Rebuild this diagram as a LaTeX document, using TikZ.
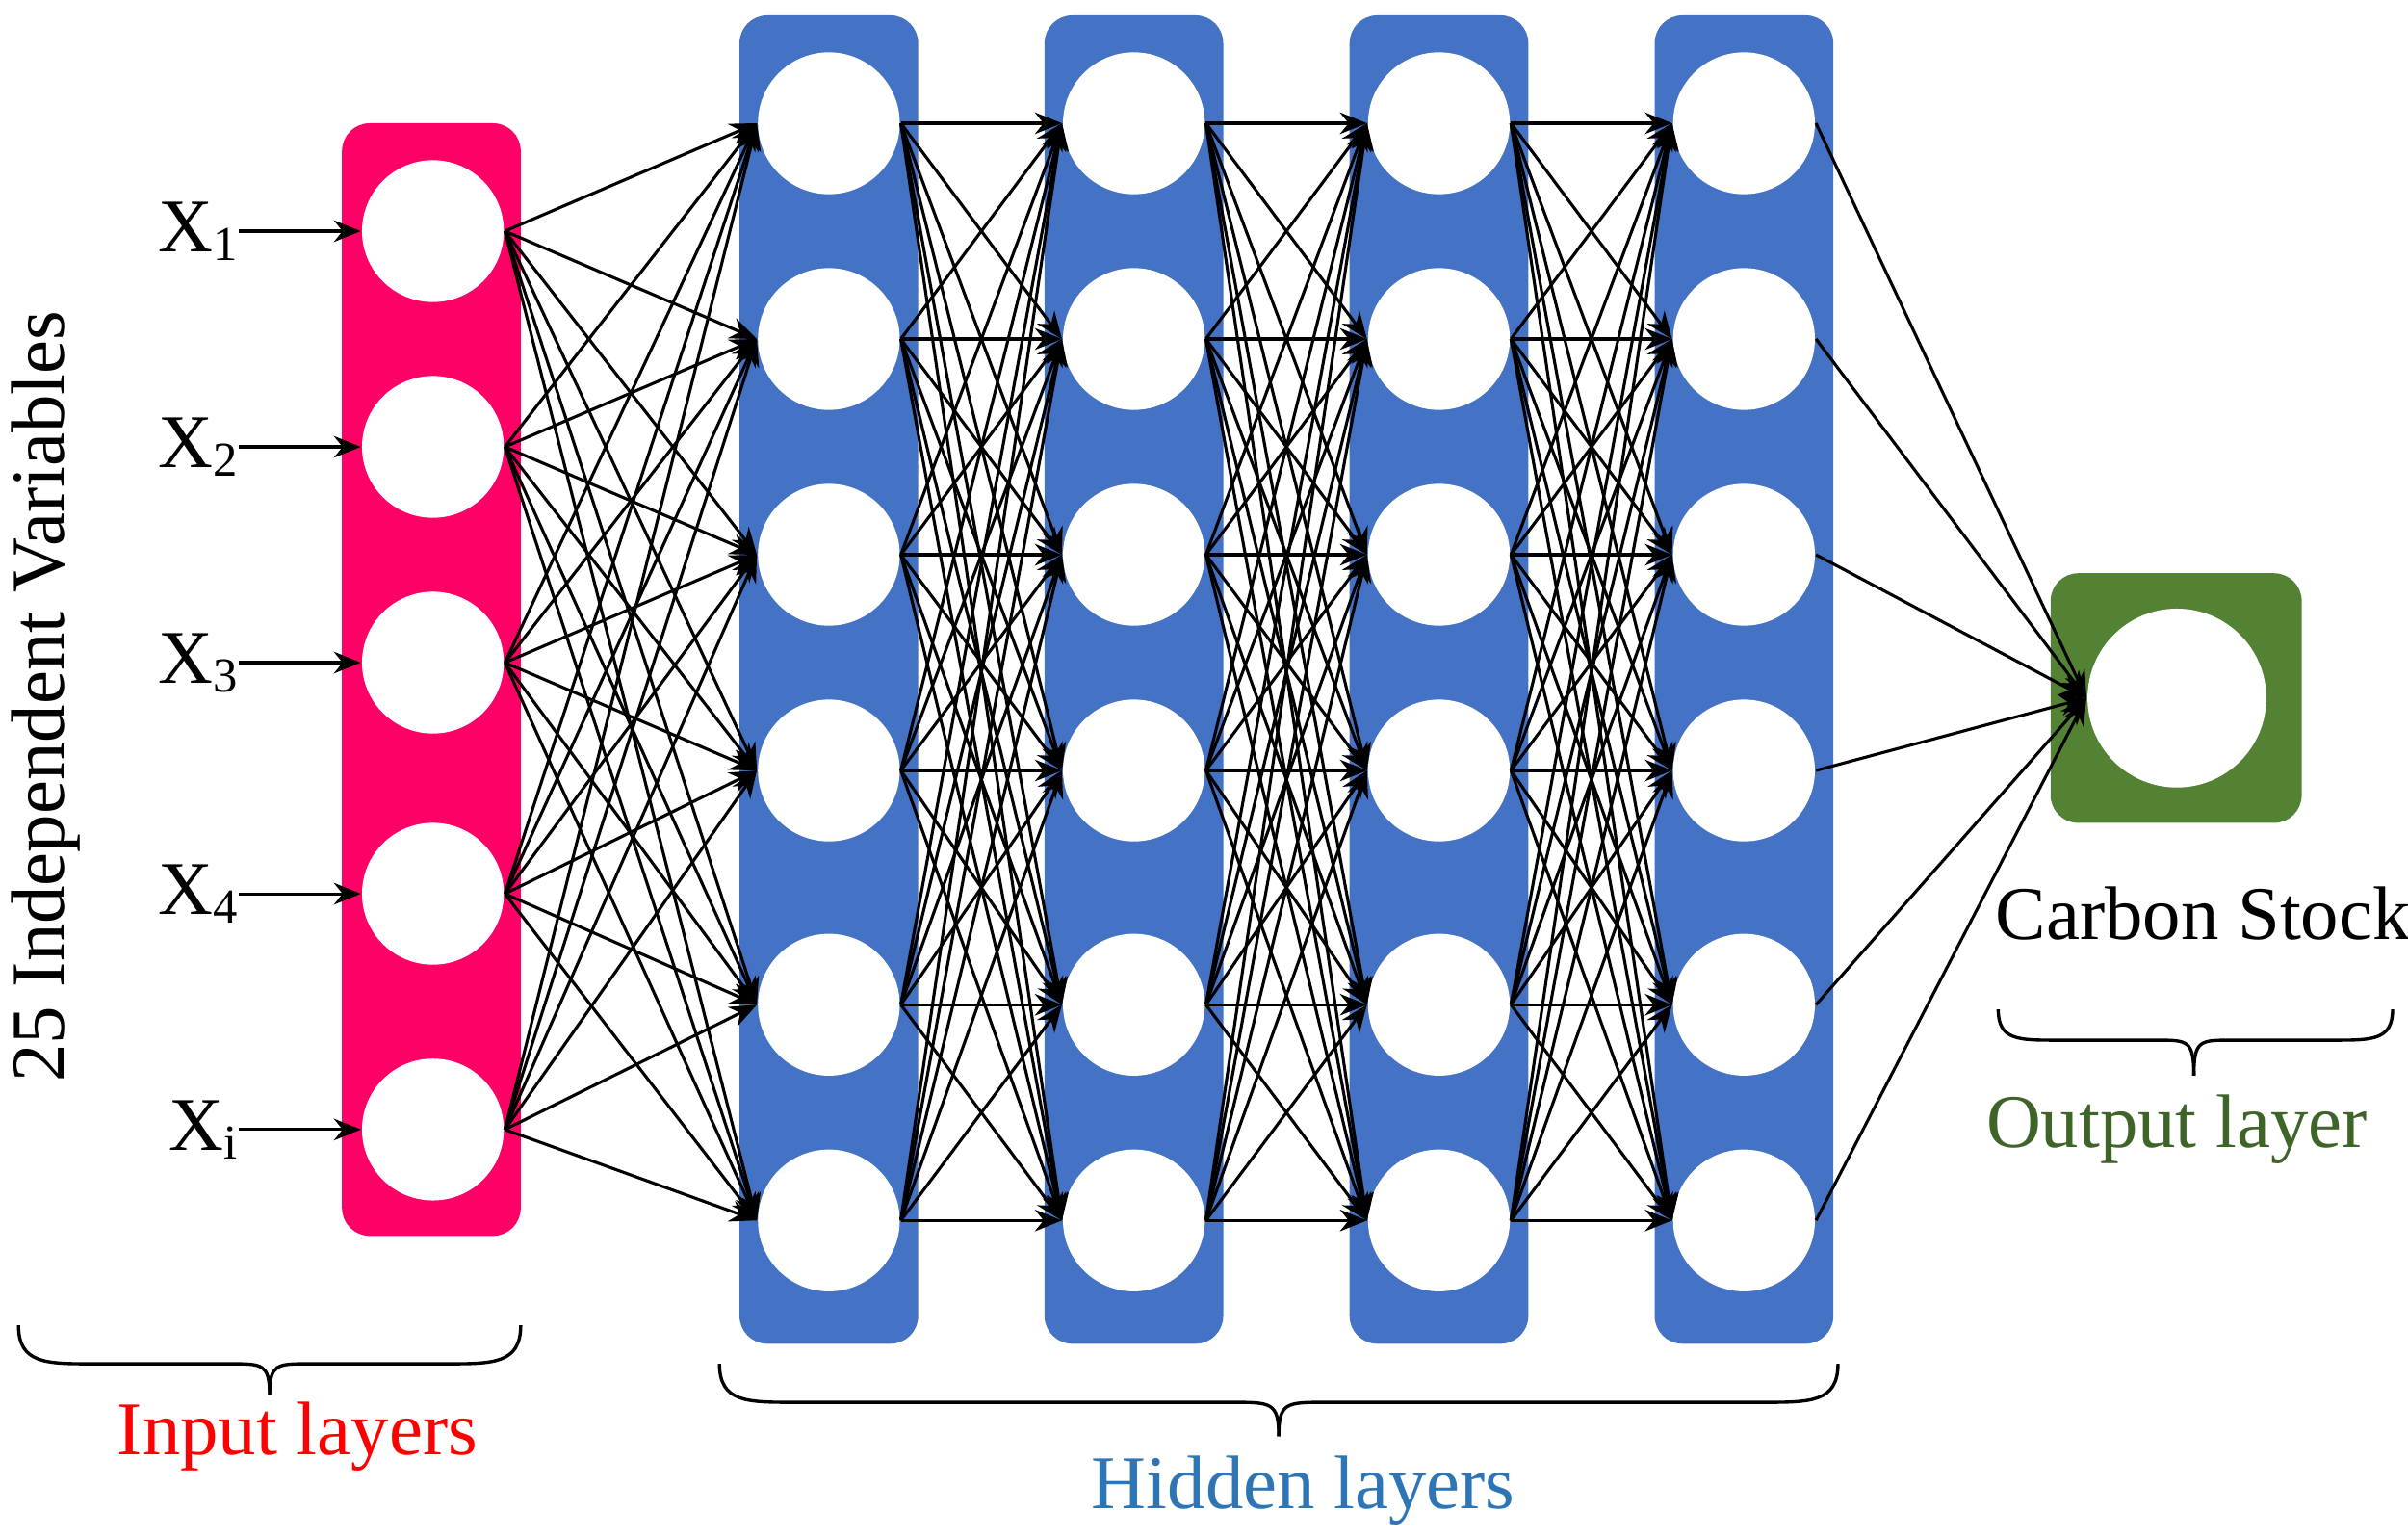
\documentclass[tikz,border=0pt]{standalone}
\usepackage{fontspec}
\setmainfont{Liberation Serif}
\usetikzlibrary{arrows.meta}
\definecolor{pinkc}{HTML}{FF0066}
\definecolor{bluec}{HTML}{4472C4}
\definecolor{greenc}{HTML}{548235}
\definecolor{dgreen}{HTML}{3F6428}
\definecolor{redt}{HTML}{FF0000}
\definecolor{bluet}{HTML}{2E75B6}
\begin{document}
\begin{tikzpicture}[x=0.01cm,y=-0.01cm,
  neuron/.style={circle,fill=white,draw=none,minimum size=0.92cm,inner sep=0pt},
  conn/.style={-{Stealth[length=5pt,width=4pt]},line width=0.55pt},
  lay/.style={rounded corners=0.18cm,draw=none},
  lbl/.style={font=\fontsize{14}{17}\selectfont},
  brace/.style={line width=0.6pt}]
\useasboundingbox (0,0) rectangle (1563,998);
% layers
\fill[lay,pinkc] (222,80) rectangle (338,802);
\foreach \x [count=\k] in {480,678,876,1074}
  \fill[lay,bluec] (\x,10) rectangle (\x+116,872);
\fill[lay,greenc] (1331,372) rectangle (1494,534);
% input nodes
\foreach \y [count=\i] in {150,290,430,580,733}
  \node[neuron] (i\i) at (281,\y) {};
\foreach \x [count=\k] in {538,736,934,1132}
  \foreach \y [count=\j] in {80,220,360,500,652,792}
    \node[neuron] (h\k-\j) at (\x,\y) {};
\node[neuron,minimum size=1.16cm] (o) at (1413,453) {};
% input labels
\foreach \t [count=\i] in {1,2,3,4,i}{
  \pgfmathsetmacro{\yy}{{150,290,430,580,733}[\i-1]}
  \node[lbl,anchor=east,inner sep=0pt] (x\i) at (155,\yy) {X\raisebox{-0.25ex}{\fontsize{9}{11}\selectfont \t}};
  \draw[conn] (x\i.east) -- (i\i.west);
}
% connections
\foreach \i in {1,...,5}
  \foreach \j in {1,...,6}
    \draw[conn] (i\i.east) -- (h1-\j.west);
\foreach \k/\n in {1/2,2/3,3/4}
  \foreach \i in {1,...,6}
    \foreach \j in {1,...,6}
      \draw[conn] (h\k-\i.east) -- (h\n-\j.west);
\foreach \i in {1,...,6}
  \draw[conn] (h4-\i.east) -- (o.west);
% texts
\node[lbl,rotate=90] (vt) at (30,452) {25 Independent Variables};
\node[lbl] (cs) at (1430,593) {Carbon Stock};
\node[lbl,text=dgreen] (ol) at (1413,733) {Output layer};
\node[lbl,text=redt] (il) at (193,932) {Input layers};
\node[lbl,text=bluet] (hl) at (846,967) {Hidden layers};
% braces
\draw[brace] (12,860) .. controls (12,885) and (30,885) .. (60,885) -- (150,885) .. controls (170,885) and (175,885) .. (175,905);
\draw[brace] (338,860) .. controls (338,885) and (320,885) .. (290,885) -- (200,885) .. controls (180,885) and (175,885) .. (175,905);
\draw[brace] (467,885) .. controls (467,910) and (485,910) .. (515,910) -- (800,910) .. controls (825,910) and (830,910) .. (830,932);
\draw[brace] (1193,885) .. controls (1193,910) and (1175,910) .. (1145,910) -- (860,910) .. controls (835,910) and (830,910) .. (830,932);
\draw[brace] (1297,655) .. controls (1297,675) and (1310,675) .. (1335,675) -- (1400,675) .. controls (1420,675) and (1424,675) .. (1424,698);
\draw[brace] (1553,655) .. controls (1553,675) and (1540,675) .. (1515,675) -- (1448,675) .. controls (1428,675) and (1424,675) .. (1424,698);
\end{tikzpicture}
\end{document}
